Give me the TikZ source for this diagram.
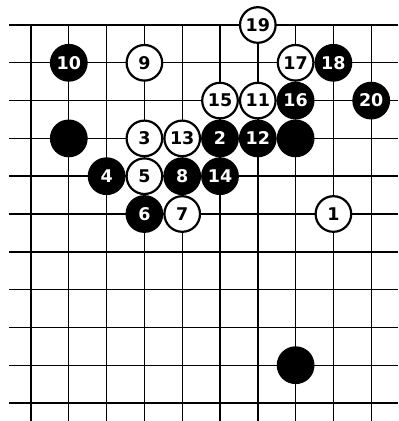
\documentclass[tikz,border=0pt]{standalone}
\usepackage{fontspec}
\setmainfont{DejaVu Sans}
\tikzset{
  blackstone/.style={circle, fill=black, text=white, inner sep=0pt, minimum size=37.8pt, font=\fontsize{17.5}{17.5}\selectfont\bfseries},
  whitestone/.style={circle, draw=black, line width=2.2pt, fill=white, text=black, inner sep=0pt, minimum size=35.6pt, font=\fontsize{17.5}{17.5}\selectfont\bfseries}
}
\begin{document}
\begin{tikzpicture}[x=37.8pt, y=-37.8pt]
\useasboundingbox[fill=white] (-0.82,-0.661) rectangle (9.709,10.476);

% board lines
\foreach \r in {1,...,10}
  \draw[line width=1.4pt] (-0.58,\r) -- (9.709,\r);
\foreach \c in {0,...,9}
  \draw[line width=1.4pt] (\c,0) -- (\c,10.476);
\draw[line width=2.8pt] (-0.58,0) -- (9.709,0);

% stones
\node[whitestone] (m1) at (8,5) {1};
\node[blackstone] (m2) at (5,3) {2};
\node[whitestone] (m3) at (3,3) {3};
\node[blackstone] (m4) at (2,4) {4};
\node[whitestone] (m5) at (3,4) {5};
\node[blackstone] (m6) at (3,5) {6};
\node[whitestone] (m7) at (4,5) {7};
\node[blackstone] (m8) at (4,4) {8};
\node[whitestone] (m9) at (3,1) {9};
\node[blackstone] (m10) at (1,1) {10};
\node[whitestone] (m11) at (6,2) {11};
\node[blackstone] (m12) at (6,3) {12};
\node[whitestone] (m13) at (4,3) {13};
\node[blackstone] (m14) at (5,4) {14};
\node[whitestone] (m15) at (5,2) {15};
\node[blackstone] (m16) at (7,2) {16};
\node[whitestone] (m17) at (7,1) {17};
\node[blackstone] (m18) at (8,1) {18};
\node[whitestone] (m19) at (6,0) {19};
\node[blackstone] (m20) at (9,2) {20};

\node[blackstone] (b1) at (1,3) {};
\node[blackstone] (b2) at (7,3) {};
\node[blackstone] (b3) at (7,9) {};
\end{tikzpicture}
\end{document}
